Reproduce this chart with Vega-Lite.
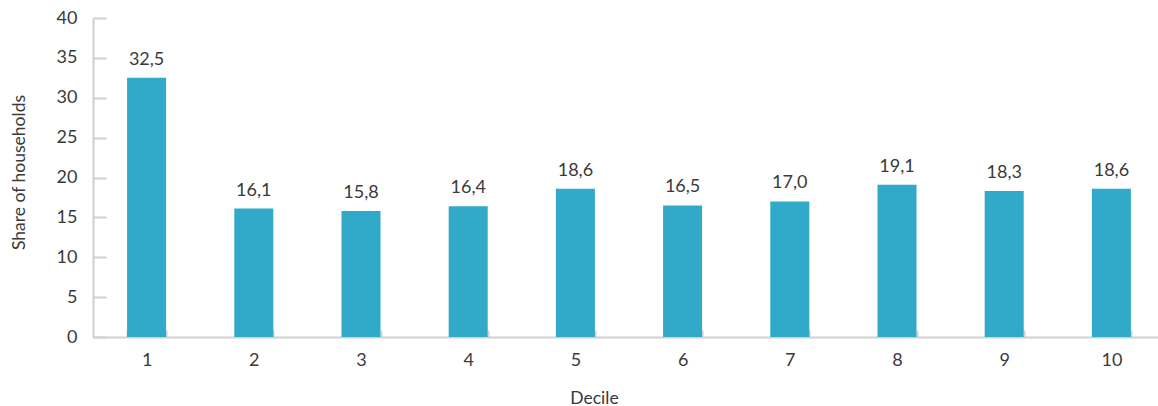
{
  "$schema": "https://vega.github.io/schema/vega-lite/v6.json",
  "width": 1072,
  "height": 319,
  "autosize": {"type": "none"},
  "padding": {"left": 93, "top": 18, "right": 0, "bottom": 69},
  "background": "white",
  "config": {
    "locale": {"number": {"decimal": ",", "thousands": ".", "grouping": [3], "currency": ["", "€"]}},
    "view": {"stroke": null},
    "font": "Lato"
  },
  "data": {
    "values": [
      {"decile": "1", "share": 32.5},
      {"decile": "2", "share": 16.1},
      {"decile": "3", "share": 15.8},
      {"decile": "4", "share": 16.4},
      {"decile": "5", "share": 18.6},
      {"decile": "6", "share": 16.5},
      {"decile": "7", "share": 17.0},
      {"decile": "8", "share": 19.1},
      {"decile": "9", "share": 18.3},
      {"decile": "10", "share": 18.6}
    ]
  },
  "encoding": {
    "x": {
      "field": "decile",
      "type": "ordinal",
      "sort": null,
      "scale": {"paddingInner": 0.636, "paddingOuter": 0.318},
      "axis": {
        "title": "Decile",
        "titleFontSize": 17.5,
        "titleFontWeight": "normal",
        "titleColor": "#3a3a3a",
        "titleX": 501,
        "titleY": 66,
        "titleAnchor": null,
        "titleAlign": "center",
        "titleBaseline": "alphabetic",
        "labelAngle": 0,
        "labelFontSize": 18,
        "labelFontWeight": "normal",
        "labelColor": "#3a3a3a",
        "labelPadding": 21,
        "domainColor": "#d0d0d0",
        "domainWidth": 2,
        "tickColor": "#d0d0d0",
        "tickWidth": 2,
        "tickSize": -7,
        "tickBand": "extent"
      }
    },
    "y": {
      "field": "share",
      "type": "quantitative",
      "scale": {"domain": [0, 40]},
      "axis": {
        "title": "Share of households",
        "titleFontSize": 17.5,
        "titleFontWeight": "normal",
        "titleColor": "#3a3a3a",
        "titleX": -74,
        "titleY": 154,
        "titleAngle": -90,
        "titleAlign": "center",
        "titleBaseline": "middle",
        "values": [0, 5, 10, 15, 20, 25, 30, 35, 40],
        "grid": false,
        "labelFontSize": 18,
        "labelFontWeight": "normal",
        "labelColor": "#3a3a3a",
        "labelPadding": 29,
        "domainColor": "#d0d0d0",
        "domainWidth": 2,
        "tickColor": "#d0d0d0",
        "tickWidth": 2,
        "tickSize": -13
      }
    }
  },
  "layer": [
    {"mark": {"type": "bar", "color": "#31a9c9"}},
    {
      "mark": {"type": "text", "dy": -13, "baseline": "alphabetic", "fontSize": 18, "color": "#3a3a3a"},
      "encoding": {"text": {"field": "share", "type": "quantitative", "format": ".1f"}}
    }
  ]
}
